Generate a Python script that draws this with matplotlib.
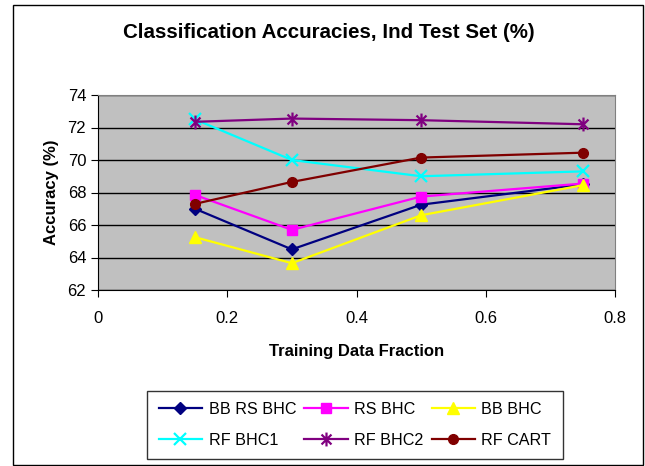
import numpy as np
import matplotlib.pyplot as plt
from matplotlib.path import Path
from matplotlib.patches import Rectangle

plt.rcParams['font.family'] = ['Liberation Sans', 'DejaVu Sans']

# data
fractions = [0.15, 0.3, 0.5, 0.75]
bb_rs_bhc = [67.0, 64.5, 67.25, 68.5]
rs_bhc = [67.85, 65.7, 67.75, 68.55]
bb_bhc = [65.25, 63.65, 66.6, 68.45]
rf_bhc1 = [72.5, 70.0, 69.0, 69.3]
rf_bhc2 = [72.35, 72.55, 72.45, 72.2]
rf_cart = [67.3, 68.65, 70.15, 70.45]
labels = ['BB RS BHC', 'RS BHC', 'BB BHC', 'RF BHC1', 'RF BHC2', 'RF CART']

# Excel style star: x with a vertical bar
star = Path([(-1, -1), (1, 1), (-1, 1), (1, -1), (0, -1.4), (0, 1.4)],
            [Path.MOVETO, Path.LINETO, Path.MOVETO, Path.LINETO, Path.MOVETO, Path.LINETO])

fig = plt.figure(figsize=(6.45, 4.66), dpi=100)
ax = fig.add_axes([98/645, 1-290/466, 517/645, 195/466])
ax.set_facecolor('#C0C0C0')

series = [bb_rs_bhc, rs_bhc, bb_bhc, rf_bhc1, rf_bhc2, rf_cart]
colors = ['#000080', '#FF00FF', '#FFFF00', '#00FFFF', '#800080', '#800000']
markers = ['D', 's', '^', 'x', star, 'o']
sizes = [6, 7, 8, 9, 10, 7]

lines = []
for vals, c, m, s, lab in zip(series, colors, markers, sizes, labels):
    if m in ('x',) or m is star:
        ln, = ax.plot(fractions, vals, color=c, lw=1.6, marker=m, ms=s,
                      mew=1.6, mfc='none', mec=c, label=lab)
    else:
        ln, = ax.plot(fractions, vals, color=c, lw=1.6, marker=m, ms=s,
                      mec=c, mfc=c, label=lab)
    lines.append(ln)

ax.set_xlim(0, 0.8)
ax.set_ylim(62, 74)
ax.set_xticks([0, 0.2, 0.4, 0.6, 0.8])
ax.set_xticklabels(['0', '0.2', '0.4', '0.6', '0.8'])
ax.set_yticks(np.arange(62, 75, 2))
ax.yaxis.grid(True, color='black', lw=1)
ax.set_axisbelow(True)
ax.tick_params(labelsize=12, direction='out', length=5, color='black')
ax.tick_params(axis='x', pad=10)
for sp in ['top', 'right']:
    ax.spines[sp].set_color('#808080')
ax.spines['left'].set_color('black')
ax.spines['bottom'].set_color('black')

ax.set_xlabel('Training Data Fraction', fontsize=12, fontweight='bold', labelpad=13)
ax.set_ylabel('Accuracy (%)', fontsize=12, fontweight='bold', labelpad=6)

fig.text(329/645, 1-33/466, 'Classification Accuracies, Ind Test Set (%)',
         fontsize=14.8, fontweight='bold', ha='center', va='center')

# legend in row order like Excel
order = [0, 3, 1, 4, 2, 5]
leg = fig.legend([lines[i] for i in order], [labels[i] for i in order], ncol=3,
                 loc='center', bbox_to_anchor=(355/645, 1-425/466),
                 fontsize=11.6, frameon=True, fancybox=False, edgecolor='black',
                 handlelength=2.7, columnspacing=0.5, handletextpad=0.4,
                 borderpad=0.7, labelspacing=1.0, borderaxespad=0)
leg.get_frame().set_linewidth(1)

fig.patches.append(Rectangle((13/645, 1-465/466), 630/645, 460/466,
                             transform=fig.transFigure, fill=False,
                             edgecolor='black', lw=1))

fig.savefig('out.png', dpi=100)
